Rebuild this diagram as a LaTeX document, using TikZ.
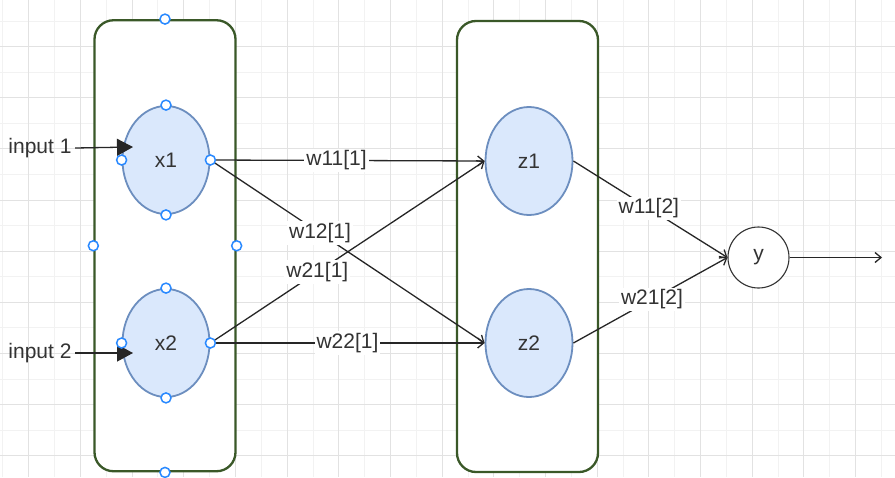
\documentclass[tikz,border=0pt]{standalone}
\usepackage{fontspec}
\setmainfont{Liberation Sans}
\usetikzlibrary{arrows.meta}
\usetikzlibrary{shapes}
\definecolor{boxgreen}{RGB}{58,88,40}
\definecolor{nodefill}{HTML}{DAE8FC}
\definecolor{nodedraw}{HTML}{6C8EBF}
\definecolor{handleblue}{RGB}{41,137,255}
\definecolor{gridlight}{RGB}{242,242,242}
\definecolor{griddark}{RGB}{226,226,226}
\definecolor{inktext}{RGB}{51,51,51}

\begin{document}
\begin{tikzpicture}[x=1pt, y=-1pt,
			every node/.style={font=\fontsize{21}{25}\selectfont, text=inktext},
			layer/.style={draw=boxgreen, line width=2.3pt, rounded corners=19pt, fill=white, minimum width=141pt, minimum height=451pt},
			neuron/.style={ellipse, draw=nodedraw, line width=1.8pt, fill=nodefill, minimum width=87pt, minimum height=108pt, inner sep=0pt},
			outnode/.style={circle, draw=inktext, line width=1.1pt, fill=white, minimum size=61pt, inner sep=0pt},
			handle/.style={circle, draw=handleblue, line width=1.5pt, fill=white, minimum size=10pt, inner sep=0pt},
			conn/.style={draw=black!85, line width=1.3pt, -{Straight Barb[length=6pt,width=10pt]}},
			inarrow/.style={draw=black!85, line width=1.3pt, -{Triangle[length=16pt,width=17pt]}},
			wlabel/.style={fill=white, inner sep=2pt}]
			\useasboundingbox (0,0) rectangle (895,477);
			\fill[white] (0,0) rectangle (895,477);
			\foreach \i in {0,2,...,34} \draw[gridlight, line width=1pt] ({2.95+25.84*\i},0) -- ({2.95+25.84*\i},477);
			\foreach \j in {-1,1,...,15} \draw[gridlight, line width=1pt] (0,{46.7+25.57*\j}) -- (895,{46.7+25.57*\j});
			\foreach \i in {1,3,...,33} \draw[griddark, line width=1pt] ({2.95+25.84*\i},0) -- ({2.95+25.84*\i},477);
			\foreach \j in {0,2,...,16} \draw[griddark, line width=1pt] (0,{46.7+25.57*\j}) -- (895,{46.7+25.57*\j});

			\node[layer] (inlayer) at (165,245.75) {};
			\node[layer] (hidlayer) at (527.5,246.5) {};

			\node[neuron] (x1) at (166,160) {x1};
			\node[neuron] (x2) at (166,343) {x2};
			\node[neuron] (z1) at (529,161) {z1};
			\node[neuron] (z2) at (529,343) {z2};
			\node[outnode] (y) at (758.5,257.5) {y};

			\node (in1) at (40,148) {input 1};
			\node (in2) at (40,353) {input 2};
			\coordinate (x1in) at (133,147);
			\coordinate (x2in) at (133,353);
			\coordinate (yout) at (882,257.5);
			\draw[inarrow] (in1.east) -- (x1in);
			\draw[inarrow] (in2.east) -- (x2in);

			\draw[conn] (x1.east) -- node[wlabel, pos=0.46] {w11[1]} (z1.west);
			\draw[conn] (x1.east) -- node[wlabel, pos=0.40] {w12[1]} (z2.west);
			\draw[conn] (x2.east) -- node[wlabel, pos=0.39] {w21[1]} (z1.west);
			\draw[conn] (x2.east) -- node[wlabel, pos=0.50] {w22[1]} (z2.west);
			\draw[conn] (z1.east) -- node[wlabel, pos=0.49] {w11[2]} (y.west);
			\draw[conn] (z2.east) -- node[wlabel, pos=0.51] {w21[2]} (y.west);
			\draw[conn] (y.east) -- (yout);

			\foreach \n in {x1,x2,inlayer}
				\foreach \a in {north,south,east,west}
					\node[handle] (\n-\a) at (\n.\a) {};
\end{tikzpicture}
\end{document}
